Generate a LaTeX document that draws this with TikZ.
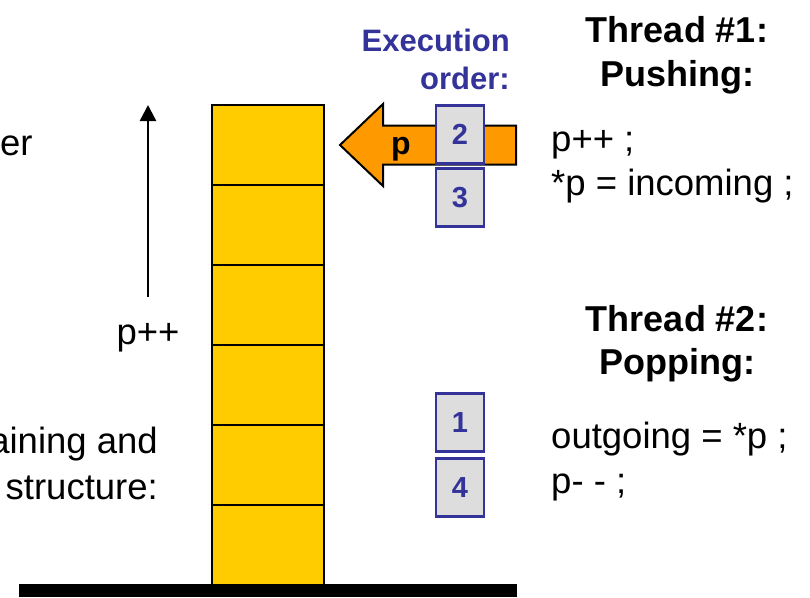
\documentclass[tikz,border=0pt]{standalone}
\usepackage{fontspec}
\setmainfont{Liberation Sans}
\usetikzlibrary{arrows.meta}
\definecolor{cellfill}{HTML}{FFCC00}
\definecolor{ptrfill}{HTML}{FF9900}
\definecolor{ordblue}{HTML}{333399}
\definecolor{ordfill}{HTML}{DDDDDD}
\tikzset{
  cell/.style={draw=black, line width=2.5pt, fill=cellfill},
  orderbox/.style={draw=ordblue, line width=2.5pt, fill=ordfill, minimum width=48pt,
    minimum height=58pt, inner sep=0pt, text=ordblue,
    font=\fontsize{29}{30}\selectfont\bfseries},
  plain/.style={inner sep=0pt, font=\fontsize{36.5}{44}\selectfont},
  heading/.style={inner sep=0pt, font=\fontsize{36}{44}\selectfont\bfseries},
  ordlabel/.style={inner sep=0pt, text=ordblue, font=\fontsize{31}{38}\selectfont\bfseries},
}
\begin{document}
\begin{tikzpicture}[x=1pt, y=-1pt]
\useasboundingbox (0,0) rectangle (810,597);

% stack of cells
\foreach \i in {0,...,5} {
  \draw[cell] (212,105+80*\i) rectangle (324,185+80*\i);
}
% base of the stack
\fill[black] (19,584) rectangle (517,597);

% direction of growth
\coordinate (growlow) at (148,297);
\coordinate (growhigh) at (148,105);
\draw[line width=2.5pt, -{Triangle[length=16pt, width=16pt]}] (growlow) -- (growhigh);
\node[plain, anchor=base] (pinc) at (148,344) {p++};

% cut text on the left
\node[plain, anchor=base west] (lefttop) at (0,155) {er};
\node[plain, anchor=base east] (leftmid) at (158,453) {aining and};
\node[plain, anchor=base east] (leftlow) at (158,499) {structure:};

% pointer arrow
\draw[line width=2pt, fill=ptrfill, line join=miter]
  (516,125.5) -- (383,125.5) -- (383,104) -- (340,145) -- (383,186)
  -- (383,164.5) -- (516,164.5) -- cycle;
\node[inner sep=0pt, anchor=base, font=\fontsize{32}{34}\selectfont\bfseries] (ptr) at (401,154) {p};

% execution order
\node[ordlabel, anchor=base east] (exec) at (510,51) {Execution};
\node[ordlabel, anchor=base east] (order) at (510,89) {order:};
\node[orderbox] (o2) at (460,134.5) {2};
\node[orderbox] (o3) at (460,197.5) {3};
\node[orderbox] (o1) at (460,422.5) {1};
\node[orderbox] (o4) at (460,487.5) {4};

% thread 1
\node[heading, anchor=base] (t1a) at (677,42) {Thread \#1:};
\node[heading, anchor=base] (t1b) at (677,86) {Pushing:};
\node[plain, anchor=base west] (c1a) at (551,151) {p++ ;};
\node[plain, anchor=base west] (c1b) at (551,195) {*p = incoming ;};

% thread 2
\node[heading, anchor=base] (t2a) at (677,331) {Thread \#2:};
\node[heading, anchor=base] (t2b) at (677,374) {Popping:};
\node[plain, anchor=base west] (c2a) at (551,448) {outgoing = *p ;};
\node[plain, anchor=base west] (c2b) at (551,493) {p- - ;};
\end{tikzpicture}
\end{document}
